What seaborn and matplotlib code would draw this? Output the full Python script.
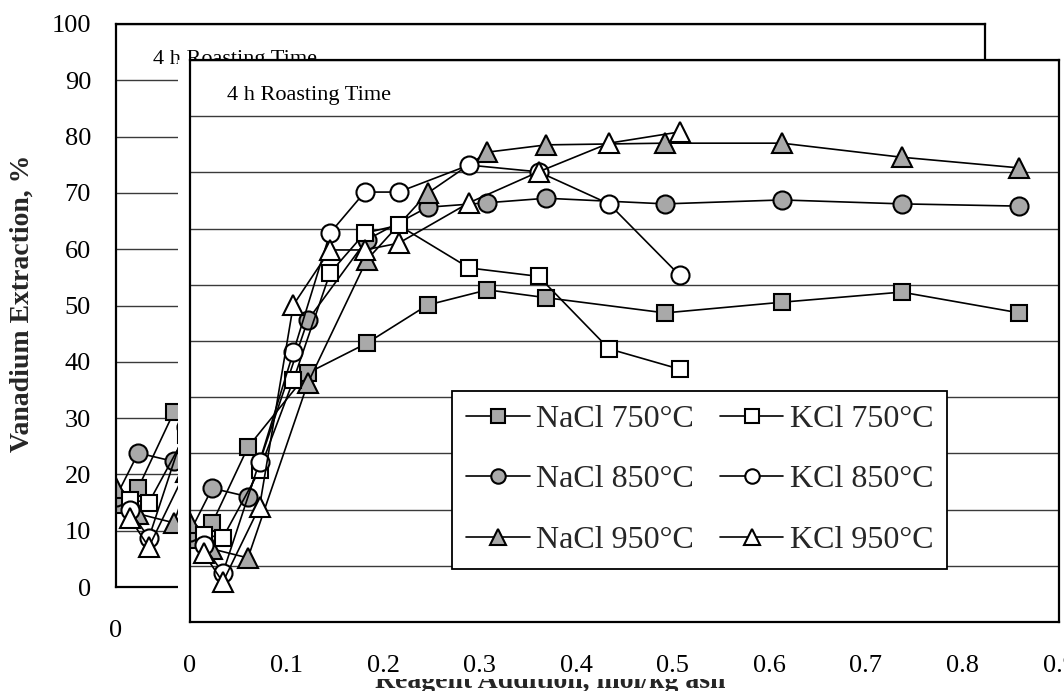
import matplotlib
matplotlib.use("Agg")
import matplotlib.pyplot as plt
from matplotlib.patches import Rectangle
import seaborn as sns

# ---- data ----
nacl_x = [0, 0.023, 0.060, 0.122, 0.183, 0.246, 0.308, 0.369, 0.492, 0.613, 0.737, 0.859]
nacl_750 = [14.6, 17.6, 31.1, 44.3, 49.6, 56.4, 59.1, 57.7, 55.0, 56.9, 58.7, 55.0]
nacl_850 = [16.0, 23.8, 22.3, 53.7, 68.0, 73.8, 74.6, 75.4, 74.4, 75.1, 74.4, 74.0]
nacl_950 = [17.6, 13.0, 11.4, 42.5, 64.4, 76.3, 83.6, 84.9, 85.2, 85.2, 82.7, 80.8]

kcl_x = [0.014, 0.034, 0.072, 0.107, 0.145, 0.181, 0.216, 0.289, 0.361, 0.434, 0.507]
kcl_750 = [15.5, 15.0, 27.0, 43.0, 62.1, 69.2, 70.6, 63.0, 61.5, 48.6, 45.0]
kcl_850 = [13.7, 8.7, 28.5, 48.0, 69.2, 76.5, 76.5, 81.3, 80.1, 74.4, 61.7]
kcl_950 = [12.3, 7.1, 20.5, 56.4, 66.2, 66.2, 67.4, 74.6, 80.1, 85.2, 87.2]

labels = ["NaCl 750°C", "NaCl 850°C", "NaCl 950°C", "KCl 750°C", "KCl 850°C", "KCl 950°C"]
x_ticks = [0, 0.1, 0.2, 0.3, 0.4, 0.5, 0.6, 0.7, 0.8, 0.9]
x_tick_labels = ["0", "0.1", "0.2", "0.3", "0.4", "0.5", "0.6", "0.7", "0.8", "0.9"]
y_ticks = [0, 10, 20, 30, 40, 50, 60, 70, 80, 90, 100]
title = "4 h Roasting Time"
xlabel = "Reagent Addition, mol/kg ash"
ylabel = "Vanadium Extraction, %"

sns.set_theme(style="white")
plt.rcParams["font.family"] = ["Liberation Serif", "DejaVu Serif"]

W, H = 1064, 691
fig = plt.figure(figsize=(W / 100, H / 100), dpi=100)
fig.patch.set_facecolor("white")


def rect_px(l, t, r, b):
    return [l / W, 1 - b / H, (r - l) / W, (b - t) / H]


GRAY = "#a9a9a9"
series = [
    (nacl_x, nacl_750, "s", GRAY, 12),
    (nacl_x, nacl_850, "o", GRAY, 13),
    (nacl_x, nacl_950, "^", GRAY, 14),
    (kcl_x, kcl_750, "s", "white", 12),
    (kcl_x, kcl_850, "o", "white", 13),
    (kcl_x, kcl_950, "^", "white", 14),
]


def draw_panel(ax):
    for xs, ys, mk, fc, ms in series:
        sns.lineplot(x=xs, y=ys, ax=ax, color="black", linewidth=1.2,
                     marker=mk, markersize=ms, markerfacecolor=fc,
                     markeredgecolor="black", markeredgewidth=1.5,
                     estimator=None, sort=False, legend=False)
    ax.set_xlim(0, 0.9)
    ax.set_ylim(0, 100)
    ax.set_xticks(x_ticks)
    ax.set_xticklabels(x_tick_labels)
    ax.set_yticks(y_ticks)
    ax.set_axisbelow(True)
    ax.yaxis.grid(True, color="#3a3a3a", linewidth=1.0)
    ax.xaxis.grid(False)
    for sp in ax.spines.values():
        sp.set_color("black")
        sp.set_linewidth(1.6)
    ax.tick_params(axis="both", direction="out", length=8, width=1.3,
                   color="black", labelsize=19, labelcolor="black")
    ax.tick_params(axis="x", pad=16)
    ax.tick_params(axis="y", pad=10)
    ax.text(0.043, 0.929, title, transform=ax.transAxes, fontsize=16,
            ha="left", va="baseline", color="black")
    ax.set_xlabel("")
    ax.set_ylabel("")


# back panel
ax_back = fig.add_axes(rect_px(116, 24, 985, 587))
ax_back.set_zorder(0)
draw_panel(ax_back)

# white chart area of the front panel covering the back one
cover = Rectangle((178 / W, 1 - 679 / H), 1 - 178 / W, (679 - 60) / H,
                  transform=fig.transFigure, facecolor="white",
                  edgecolor="none", zorder=1)
fig.add_artist(cover)

# front panel
ax_front = fig.add_axes(rect_px(190, 60, 1059, 622))
ax_front.set_zorder(2)
ax_front.set_facecolor("white")
draw_panel(ax_front)
ax_front.tick_params(axis="y", labelleft=False)

handles = ax_front.get_lines()[:6]
leg = ax_front.legend(handles, labels, ncol=2, loc="upper left",
                      bbox_to_anchor=(0.302, 0.411), borderaxespad=0,
                      frameon=True, fancybox=False, framealpha=1,
                      edgecolor="black", fontsize=23, handlelength=2.0,
                      handletextpad=0.2, columnspacing=0.8, labelspacing=0.98,
                      borderpad=0.42, markerscale=0.8)
leg.get_frame().set_linewidth(1.3)

fig.text(550 / W, 1 - 688 / H, xlabel, ha="center", va="baseline",
         fontsize=20, fontweight="bold", zorder=0.5)
fig.text(22 / W, 1 - 303 / H, ylabel, ha="center", va="center",
         rotation=90, fontsize=20, fontweight="bold")

fig.savefig("out.png", dpi=100, facecolor="white")
